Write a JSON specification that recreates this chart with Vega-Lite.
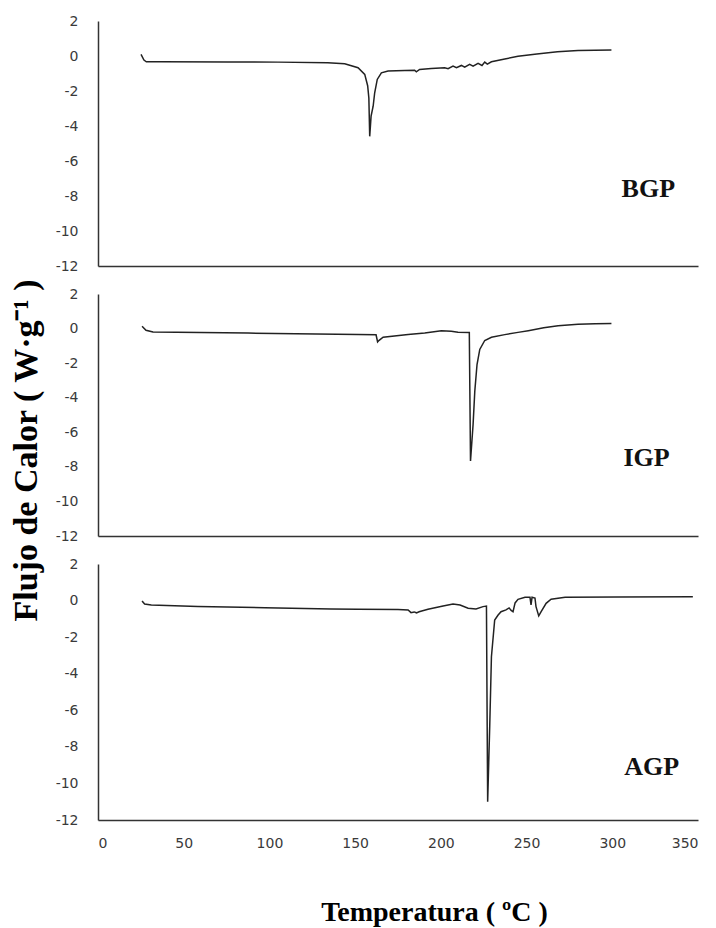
{
  "$schema": "https://vega.github.io/schema/vega-lite/v6.json",
  "padding": {"left": 8, "top": 14, "right": 10, "bottom": 4},
  "background": "white",
  "spacing": 28,
  "bounds": "flush",
  "config": {
    "view": {"stroke": null},
    "axis": {
      "grid": false,
      "ticks": false,
      "tickSize": 0,
      "labelOverlap": false,
      "domainColor": "#333333",
      "domainWidth": 1.5,
      "labelFont": "DejaVu Sans",
      "labelFontSize": 14,
      "labelColor": "#3a3a3a",
      "titleFont": "Liberation Serif",
      "titleFontWeight": "bold",
      "titleColor": "#000000"
    },
    "text": {"font": "Liberation Serif", "fontWeight": "bold", "fontSize": 26, "align": "center", "baseline": "middle", "color": "#111111"},
    "line": {"color": "#222222", "strokeWidth": 1.5}
  },
  "datasets": {
    "dsc": [
      {"sample": "BGP", "t": 25.1, "hf": 0.09},
      {"sample": "BGP", "t": 26.8, "hf": -0.23},
      {"sample": "BGP", "t": 28.2, "hf": -0.33},
      {"sample": "BGP", "t": 37, "hf": -0.33},
      {"sample": "BGP", "t": 75.8, "hf": -0.34},
      {"sample": "BGP", "t": 105, "hf": -0.35},
      {"sample": "BGP", "t": 134, "hf": -0.38},
      {"sample": "BGP", "t": 143.9, "hf": -0.44},
      {"sample": "BGP", "t": 151.7, "hf": -0.67},
      {"sample": "BGP", "t": 155.6, "hf": -1.05},
      {"sample": "BGP", "t": 157.3, "hf": -1.7},
      {"sample": "BGP", "t": 158.0, "hf": -2.4},
      {"sample": "BGP", "t": 158.5, "hf": -4.59},
      {"sample": "BGP", "t": 159.3, "hf": -3.44},
      {"sample": "BGP", "t": 160.5, "hf": -2.87},
      {"sample": "BGP", "t": 161.4, "hf": -2.1},
      {"sample": "BGP", "t": 162.9, "hf": -1.34},
      {"sample": "BGP", "t": 165.3, "hf": -0.96},
      {"sample": "BGP", "t": 169.2, "hf": -0.86},
      {"sample": "BGP", "t": 178.9, "hf": -0.83},
      {"sample": "BGP", "t": 184.7, "hf": -0.81},
      {"sample": "BGP", "t": 185.7, "hf": -0.9},
      {"sample": "BGP", "t": 187.6, "hf": -0.77},
      {"sample": "BGP", "t": 194.4, "hf": -0.71},
      {"sample": "BGP", "t": 202.2, "hf": -0.67},
      {"sample": "BGP", "t": 204.2, "hf": -0.73},
      {"sample": "BGP", "t": 207.1, "hf": -0.58},
      {"sample": "BGP", "t": 209.1, "hf": -0.67},
      {"sample": "BGP", "t": 212, "hf": -0.54},
      {"sample": "BGP", "t": 213.9, "hf": -0.64},
      {"sample": "BGP", "t": 216.8, "hf": -0.48},
      {"sample": "BGP", "t": 218.8, "hf": -0.58},
      {"sample": "BGP", "t": 221.7, "hf": -0.42},
      {"sample": "BGP", "t": 224, "hf": -0.54},
      {"sample": "BGP", "t": 225.6, "hf": -0.35},
      {"sample": "BGP", "t": 227.1, "hf": -0.46},
      {"sample": "BGP", "t": 229.5, "hf": -0.33},
      {"sample": "BGP", "t": 237.3, "hf": -0.17},
      {"sample": "BGP", "t": 245, "hf": -0.02},
      {"sample": "BGP", "t": 256, "hf": 0.12},
      {"sample": "BGP", "t": 268, "hf": 0.24},
      {"sample": "BGP", "t": 280, "hf": 0.31},
      {"sample": "BGP", "t": 299.5, "hf": 0.34},

      {"sample": "IGP", "t": 25.7, "hf": 0.13},
      {"sample": "IGP", "t": 28, "hf": -0.1},
      {"sample": "IGP", "t": 32.1, "hf": -0.2},
      {"sample": "IGP", "t": 87.5, "hf": -0.26},
      {"sample": "IGP", "t": 151.7, "hf": -0.35},
      {"sample": "IGP", "t": 162.2, "hf": -0.36},
      {"sample": "IGP", "t": 163.1, "hf": -0.77},
      {"sample": "IGP", "t": 164, "hf": -0.68},
      {"sample": "IGP", "t": 166.3, "hf": -0.5},
      {"sample": "IGP", "t": 180.9, "hf": -0.35},
      {"sample": "IGP", "t": 190.6, "hf": -0.25},
      {"sample": "IGP", "t": 200.3, "hf": -0.12},
      {"sample": "IGP", "t": 206.1, "hf": -0.16},
      {"sample": "IGP", "t": 210, "hf": -0.21},
      {"sample": "IGP", "t": 216.6, "hf": -0.23},
      {"sample": "IGP", "t": 216.9, "hf": -3.5},
      {"sample": "IGP", "t": 217.3, "hf": -7.66},
      {"sample": "IGP", "t": 218.8, "hf": -5.55},
      {"sample": "IGP", "t": 219.8, "hf": -3.62},
      {"sample": "IGP", "t": 221.1, "hf": -2.08},
      {"sample": "IGP", "t": 222.7, "hf": -1.21},
      {"sample": "IGP", "t": 225.6, "hf": -0.69},
      {"sample": "IGP", "t": 229.5, "hf": -0.5},
      {"sample": "IGP", "t": 237.3, "hf": -0.35},
      {"sample": "IGP", "t": 245, "hf": -0.22},
      {"sample": "IGP", "t": 251, "hf": -0.12},
      {"sample": "IGP", "t": 260, "hf": 0.05},
      {"sample": "IGP", "t": 268.4, "hf": 0.17},
      {"sample": "IGP", "t": 280, "hf": 0.25},
      {"sample": "IGP", "t": 290, "hf": 0.28},
      {"sample": "IGP", "t": 299.5, "hf": 0.29},

      {"sample": "AGP", "t": 25.7, "hf": -0.02},
      {"sample": "AGP", "t": 27.2, "hf": -0.19},
      {"sample": "AGP", "t": 31.1, "hf": -0.24},
      {"sample": "AGP", "t": 58.3, "hf": -0.33},
      {"sample": "AGP", "t": 97.3, "hf": -0.39},
      {"sample": "AGP", "t": 136.1, "hf": -0.46},
      {"sample": "AGP", "t": 151.7, "hf": -0.48},
      {"sample": "AGP", "t": 175, "hf": -0.49},
      {"sample": "AGP", "t": 180.9, "hf": -0.51},
      {"sample": "AGP", "t": 182.6, "hf": -0.66},
      {"sample": "AGP", "t": 184.4, "hf": -0.62},
      {"sample": "AGP", "t": 185.8, "hf": -0.67},
      {"sample": "AGP", "t": 187.3, "hf": -0.61},
      {"sample": "AGP", "t": 192.5, "hf": -0.48},
      {"sample": "AGP", "t": 201.3, "hf": -0.3},
      {"sample": "AGP", "t": 207.1, "hf": -0.19},
      {"sample": "AGP", "t": 211.2, "hf": -0.24},
      {"sample": "AGP", "t": 215.9, "hf": -0.42},
      {"sample": "AGP", "t": 220.5, "hf": -0.46},
      {"sample": "AGP", "t": 224.6, "hf": -0.33},
      {"sample": "AGP", "t": 226.6, "hf": -0.3},
      {"sample": "AGP", "t": 226.9, "hf": -5.0},
      {"sample": "AGP", "t": 227.3, "hf": -11.0},
      {"sample": "AGP", "t": 228.5, "hf": -6.9},
      {"sample": "AGP", "t": 229.5, "hf": -3.07},
      {"sample": "AGP", "t": 231.4, "hf": -1.06},
      {"sample": "AGP", "t": 233.4, "hf": -0.79},
      {"sample": "AGP", "t": 235.1, "hf": -0.61},
      {"sample": "AGP", "t": 238, "hf": -0.51},
      {"sample": "AGP", "t": 239.8, "hf": -0.4},
      {"sample": "AGP", "t": 241, "hf": -0.54},
      {"sample": "AGP", "t": 242.1, "hf": -0.61},
      {"sample": "AGP", "t": 243.3, "hf": -0.13},
      {"sample": "AGP", "t": 245, "hf": 0.07},
      {"sample": "AGP", "t": 249.1, "hf": 0.18},
      {"sample": "AGP", "t": 252, "hf": 0.18},
      {"sample": "AGP", "t": 252.6, "hf": -0.24},
      {"sample": "AGP", "t": 253.2, "hf": 0.18},
      {"sample": "AGP", "t": 254.9, "hf": 0.14},
      {"sample": "AGP", "t": 255.5, "hf": -0.33},
      {"sample": "AGP", "t": 257.1, "hf": -0.84},
      {"sample": "AGP", "t": 258.5, "hf": -0.61},
      {"sample": "AGP", "t": 261.4, "hf": -0.15},
      {"sample": "AGP", "t": 264.3, "hf": 0.07},
      {"sample": "AGP", "t": 272.5, "hf": 0.18},
      {"sample": "AGP", "t": 303, "hf": 0.2},
      {"sample": "AGP", "t": 347, "hf": 0.21}
    ],
    "labels": [
      {"sample": "BGP", "t": 321, "hf": -7.6, "label": "BGP"},
      {"sample": "IGP", "t": 320, "hf": -7.5, "label": "IGP"},
      {"sample": "AGP", "t": 323, "hf": -9.1, "label": "AGP"}
    ]
  },
  "vconcat": [
    {
      "width": 600,
      "height": 245,
      "encoding": {
        "x": {"field": "t", "type": "quantitative", "scale": {"domain": [0, 350], "nice": false},
              "axis": {"labels": false, "title": null, "values": [0, 50, 100, 150, 200, 250, 300, 350]}},
        "y": {"field": "hf", "type": "quantitative", "scale": {"domain": [-12, 2], "nice": false},
              "axis": {"title": null, "values": [-12, -10, -8, -6, -4, -2, 0, 2], "labelOverlap": false, "labelPadding": 20, "labelExpr": "replace(datum.label, '\u2212', '-')"}}
      },
      "layer": [
        {
          "data": {"name": "dsc"},
          "transform": [{"filter": "datum.sample === 'BGP'"}],
          "mark": "line"
        },
        {
          "data": {"name": "labels"},
          "transform": [{"filter": "datum.sample === 'BGP'"}],
          "mark": "text",
          "encoding": {"text": {"field": "label"}}
        }
      ]
    },
    {
      "width": 600,
      "height": 242,
      "encoding": {
        "x": {"field": "t", "type": "quantitative", "scale": {"domain": [0, 350], "nice": false},
              "axis": {"labels": false, "title": null, "values": [0, 50, 100, 150, 200, 250, 300, 350]}},
        "y": {"field": "hf", "type": "quantitative", "scale": {"domain": [-12, 2], "nice": false},
              "axis": {"title": "Flujo de Calor ( W·g⁻¹ )", "titleFontSize": 34, "titleAngle": 270,
                       "titleX": -62, "titleY": 156, "titleAlign": "center", "titleBaseline": "alphabetic",
                       "values": [-12, -10, -8, -6, -4, -2, 0, 2], "labelOverlap": false, "labelPadding": 20, "labelExpr": "replace(datum.label, '\u2212', '-')"}}
      },
      "layer": [
        {
          "data": {"name": "dsc"},
          "transform": [{"filter": "datum.sample === 'IGP'"}],
          "mark": "line"
        },
        {
          "data": {"name": "labels"},
          "transform": [{"filter": "datum.sample === 'IGP'"}],
          "mark": "text",
          "encoding": {"text": {"field": "label"}}
        }
      ]
    },
    {
      "width": 600,
      "height": 256,
      "encoding": {
        "x": {"field": "t", "type": "quantitative", "scale": {"domain": [0, 350], "nice": false},
              "axis": {"title": "Temperatura ( ºC )", "titleFontSize": 28, "titleX": 336, "titleY": 100,
                       "titleAlign": "center", "titleBaseline": "alphabetic", "labelPadding": 16,
                       "values": [0, 50, 100, 150, 200, 250, 300, 350]}},
        "y": {"field": "hf", "type": "quantitative", "scale": {"domain": [-12, 2], "nice": false},
              "axis": {"title": null, "values": [-12, -10, -8, -6, -4, -2, 0, 2], "labelOverlap": false, "labelPadding": 20, "labelExpr": "replace(datum.label, '\u2212', '-')"}}
      },
      "layer": [
        {
          "data": {"name": "dsc"},
          "transform": [{"filter": "datum.sample === 'AGP'"}],
          "mark": "line"
        },
        {
          "data": {"name": "labels"},
          "transform": [{"filter": "datum.sample === 'AGP'"}],
          "mark": "text",
          "encoding": {"text": {"field": "label"}}
        }
      ]
    }
  ]
}
